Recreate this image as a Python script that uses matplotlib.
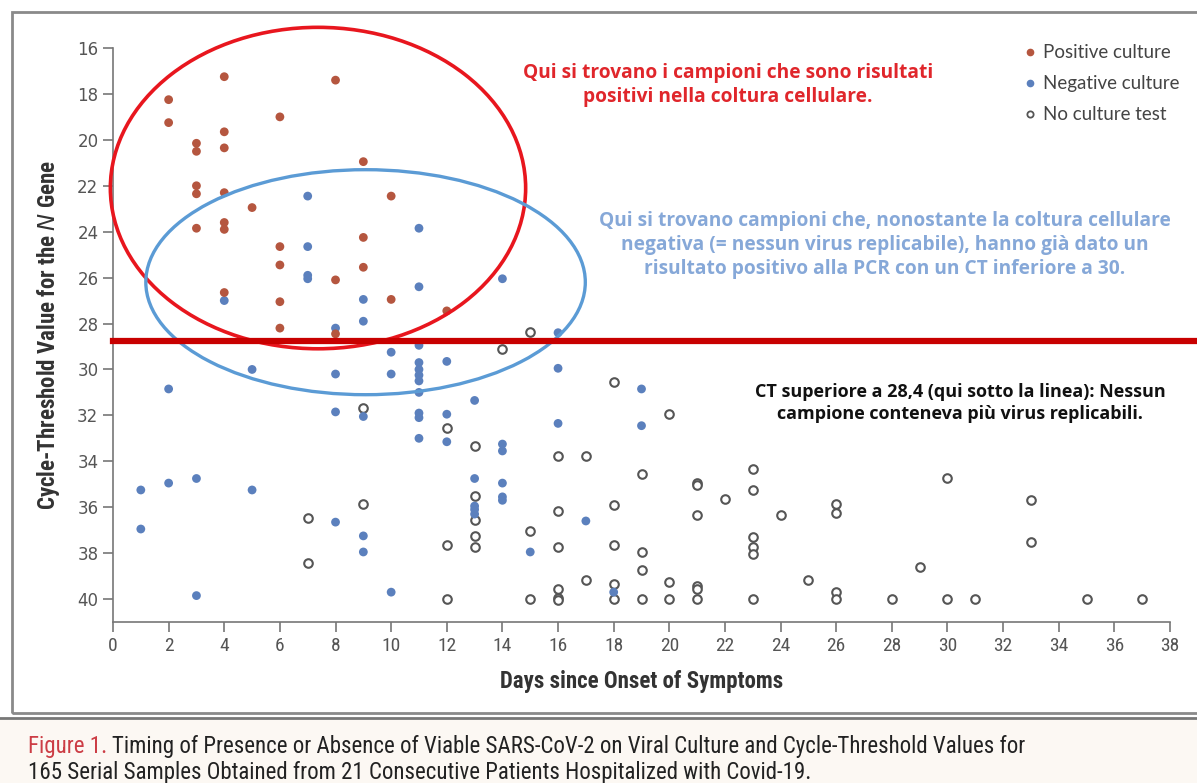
import matplotlib
matplotlib.use("Agg")
import matplotlib.pyplot as plt
from matplotlib.patches import Ellipse, Rectangle

# days since onset / CT value
pos_day = [2, 2, 3, 3, 3, 3, 3, 4, 4, 4, 4, 4, 4, 4, 5, 6, 6, 6, 6, 6,
           8, 8, 8, 9, 9, 9, 10, 10, 12]
pos_ct = [18.25, 19.25, 20.15, 20.5, 22.0, 22.35, 23.85, 17.25, 19.65, 20.35,
          22.3, 23.6, 23.9, 26.65, 22.95, 19.0, 24.65, 25.45, 27.05, 28.2,
          17.4, 26.1, 28.45, 20.95, 24.25, 25.55, 22.45, 26.95, 27.45]

neg_day = [1, 1, 2, 2, 3, 3, 4, 5, 5, 7, 7, 7, 7, 8, 8, 8, 8, 9, 9, 9, 9, 9,
           10, 10, 10, 11, 11, 11, 11, 11, 11, 11, 11, 11, 11, 11, 12, 12, 12,
           13, 13, 13, 13, 13, 14, 14, 14, 14, 14, 14, 15, 16, 16, 16, 17, 18,
           19, 19]
neg_ct = [35.25, 36.95, 30.85, 34.95, 34.75, 39.85, 27.0, 30.0, 35.25, 22.45,
          24.65, 25.9, 26.05, 28.2, 30.2, 31.85, 36.65, 26.95, 27.9, 32.05,
          37.25, 37.95, 29.25, 30.2, 39.7, 23.85, 26.4, 28.95, 29.7, 30.0,
          30.25, 30.5, 31.0, 31.9, 32.1, 33.0, 29.65, 31.95, 33.15, 31.35,
          34.75, 35.95, 36.1, 36.3, 26.05, 33.25, 33.55, 34.95, 35.55, 35.7,
          37.95, 28.4, 29.95, 32.35, 36.6, 39.7, 30.85, 32.45]

none_day = [7, 7, 9, 9, 12, 12, 12, 13, 13, 13, 13, 13, 14, 15, 15, 15,
            16, 16, 16, 16, 16, 16, 17, 17, 18, 18, 18, 18, 18, 19, 19, 19, 19,
            20, 20, 20, 21, 21, 21, 21, 21, 21, 22, 23, 23, 23, 23, 23, 23,
            24, 25, 26, 26, 26, 26, 28, 29, 30, 30, 31, 33, 33, 35, 37]
none_ct = [36.45, 38.45, 31.7, 35.85, 32.55, 37.65, 40.0, 33.35, 35.5, 36.55,
           37.25, 37.75, 29.1, 28.35, 37.05, 40.0, 33.75, 36.15, 37.75, 39.55,
           39.95, 40.05, 33.75, 39.15, 30.55, 35.9, 37.65, 39.35, 40.0, 34.55,
           37.95, 38.75, 40.0, 31.95, 39.25, 40.0, 34.95, 35.05, 36.35, 39.45,
           39.55, 40.0, 35.65, 34.35, 35.25, 37.3, 37.75, 38.05, 40.0, 36.35,
           39.15, 35.85, 36.25, 39.7, 40.0, 40.0, 38.6, 34.75, 40.0, 40.0,
           35.7, 37.5, 40.0, 40.0]

CT_CUTOFF = 28.75
x_ticks = list(range(0, 39, 2))
y_ticks = list(range(16, 41, 2))

POS_COLOR = "#b5563f"
NEG_COLOR = "#5b80bd"
NONE_EDGE = "#555555"
COND = "Roboto Condensed"

fig = plt.figure(figsize=(11.97, 7.83), dpi=100)
W, H = 1197, 783

def px(x, y):
    """pixel position (top-left origin) to figure fraction"""
    return x / W, 1 - y / H

# panel frame and caption strip
fig.add_artist(Rectangle(px(12, 713), (W - 12) / W + 0.01, (713 - 12) / H,
                         transform=fig.transFigure, fill=False,
                         edgecolor="#8a8a8a", linewidth=2))
fig.add_artist(Rectangle(px(0, 783), 1, (783 - 718) / H,
                         transform=fig.transFigure, facecolor="#fcf8f3",
                         edgecolor="none"))
fig.add_artist(plt.Line2D([0, 1], [1 - 718 / H] * 2, transform=fig.transFigure,
                          color="#777777", linewidth=2))

ax = fig.add_axes([113 / W, 1 - 622 / H, (1170 - 113) / W, (622 - 48) / H])

ax.scatter(none_day, none_ct, s=38, facecolors="white", edgecolors=NONE_EDGE,
           linewidths=1.5, zorder=3)
ax.scatter(neg_day, neg_ct, s=40, color=NEG_COLOR, edgecolors="none", zorder=3)
ax.scatter(pos_day, pos_ct, s=40, color=POS_COLOR, edgecolors="none", zorder=3)

ax.set_xlim(0, 38)
ax.set_ylim(41, 16)
ax.set_xticks(x_ticks)
ax.set_yticks(y_ticks)
for side in ["top", "right"]:
    ax.spines[side].set_visible(False)
for side in ["left", "bottom"]:
    ax.spines[side].set_color("#777777")
    ax.spines[side].set_linewidth(1.2)
ax.tick_params(colors="#777777", length=7, width=1.2, labelcolor="#555555")
for lab in ax.get_xticklabels():
    lab.set_family(COND)
    lab.set_fontsize(14)
for lab in ax.get_yticklabels():
    lab.set_fontsize(12)

ax.set_xlabel("Days since Onset of Symptoms", family=COND, fontsize=16.5,
              fontweight="bold", color="#333333", labelpad=11)
ax.set_ylabel("Cycle-Threshold Value for the $\\mathit{N}$ Gene", family=COND,
              fontsize=16.5, fontweight="bold", color="#333333", labelpad=11)

# highlight ellipses and cut-off line
ax.add_patch(Ellipse((7.37, 22.1), 14.93, 14.0, fill=False, edgecolor="#e8161e",
                     linewidth=2.6, clip_on=False, zorder=4))
ax.add_patch(Ellipse((9.08, 26.2), 15.8, 9.8, fill=False, edgecolor="#5b9bd5",
                     linewidth=2.4, clip_on=False, zorder=4))
ax.axhline(CT_CUTOFF, xmin=0, xmax=1.04, color="#c80000", linewidth=4.5,
           clip_on=False, zorder=5)

# legend
leg_y = [52, 83, 114]
leg_lab = ["Positive culture", "Negative culture", "No culture test"]
for i, (yy, lab) in enumerate(zip(leg_y, leg_lab)):
    fx, fy = px(1030, yy)
    if i == 0:
        fig.lines.append(plt.Line2D([fx], [fy], marker="o", markersize=4.5,
                                    color=POS_COLOR, transform=fig.transFigure))
    elif i == 1:
        fig.lines.append(plt.Line2D([fx], [fy], marker="o", markersize=4.5,
                                    color=NEG_COLOR, transform=fig.transFigure))
    else:
        fig.lines.append(plt.Line2D([fx], [fy], marker="o", markersize=4.5,
                                    markerfacecolor="white",
                                    markeredgecolor=NONE_EDGE,
                                    markeredgewidth=1.3,
                                    transform=fig.transFigure))
    tx, ty = px(1043, yy)
    fig.text(tx, ty, lab, family="Lato", fontsize=13.5, color="#444444",
             va="center", ha="left")

# annotations
fig.text(*px(728, 85), "Qui si trovano i campioni che sono risultati\n"
         "positivi nella coltura cellulare.", family="Open Sans",
         fontweight="bold", fontsize=13.8, color="#e0262b", ha="center",
         va="center", linespacing=1.25)
fig.text(*px(885, 245), "Qui si trovano campioni che, nonostante la coltura cellulare\n"
         "negativa (= nessun virus replicabile), hanno già dato un\n"
         "risultato positivo alla PCR con un CT inferiore a 30.",
         family="Open Sans", fontweight="bold", fontsize=13.8, color="#86a8d8",
         ha="center", va="center", linespacing=1.25)
fig.text(*px(960, 403), "CT superiore a 28,4 (qui sotto la linea): Nessun\n"
         "campione conteneva più virus replicabili.", family="Open Sans",
         fontweight="bold", fontsize=13, color="#111111", ha="center",
         va="center", linespacing=1.3)

# caption
fig.canvas.draw()
r = fig.canvas.get_renderer()
t1 = fig.text(*px(28, 746), "Figure 1.", family=COND, fontsize=16.5,
              color="#cc3d45", va="center", ha="left")
bb = t1.get_window_extent(renderer=r)
fig.text(bb.x1 / W + 5 / W, 1 - 746 / H,
         "Timing of Presence or Absence of Viable SARS-CoV-2 on Viral Culture "
         "and Cycle-Threshold Values for", family=COND, fontsize=16.5,
         color="#222222", va="center", ha="left")
fig.text(*px(28, 773), "165 Serial Samples Obtained from 21 Consecutive "
         "Patients Hospitalized with Covid-19.", family=COND, fontsize=16.5,
         color="#222222", va="center", ha="left")

fig.savefig("out.png", dpi=100)
